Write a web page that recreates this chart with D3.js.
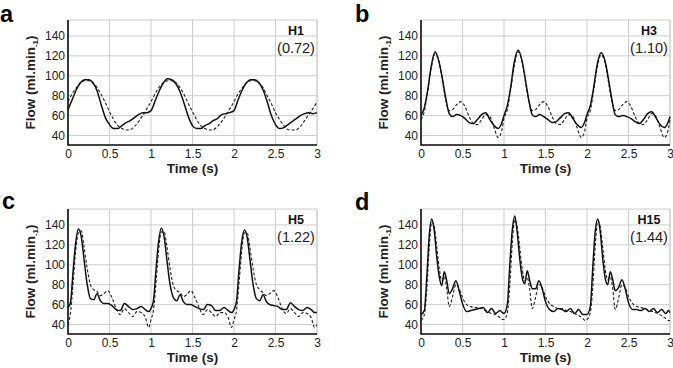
<!DOCTYPE html>
<html>
<head>
<meta charset="utf-8">
<script src="https://cdn.jsdelivr.net/npm/d3@7"></script>
<style>
body { margin: 0; background: #fff; }
svg { display: block; font-family: "Liberation Sans", Arial, sans-serif; }
.grid line, .frame { stroke: #cdcdcd; stroke-width: 1; fill: none; }
.axis path { stroke: #111; stroke-width: 1.6; }
.axis text { font-size: 12px; fill: #222; font-family: "Liberation Sans", Arial, sans-serif; }
.measured { fill: none; stroke: #111; stroke-width: 1.5; }
.simulated { fill: none; stroke: #222; stroke-width: 1.1; stroke-dasharray: 3,2; }
.title { font-weight: bold; font-size: 13.5px; fill: #222; }
</style>
</head>
<body>
<div class="graph"></div>
<script>
// tick labels
var xTicks = [0, 0.5, 1, 1.5, 2, 2.5, 3];
var yTicks = [40, 60, 80, 100, 120, 140];

// panel a (H1)
var timeA = [0, 0.05, 0.1, 0.15, 0.2, 0.25, 0.3, 0.35, 0.4, 0.45, 0.5, 0.55, 0.6, 0.65, 0.7, 0.75, 0.8, 0.85, 0.9, 0.95,
    1, 1.05, 1.1, 1.15, 1.2, 1.25, 1.3, 1.35, 1.4, 1.45, 1.5, 1.55, 1.6, 1.65, 1.7, 1.75, 1.8, 1.85, 1.9, 1.95,
    2, 2.05, 2.1, 2.15, 2.2, 2.25, 2.3, 2.35, 2.4, 2.45, 2.5, 2.55, 2.6, 2.65, 2.7, 2.75, 2.8, 2.85, 2.9, 2.95, 3];
var measuredA = [66, 76, 86, 93, 96, 96, 93, 85, 71, 58, 51, 47, 47, 50, 53, 55, 58, 61, 63, 63,
    65, 75, 85, 93, 97, 96, 92, 84, 72, 59, 50, 47, 47, 50, 52, 55, 57, 61, 62, 63,
    65, 76, 86, 93, 96, 96, 93, 86, 74, 60, 51, 47, 48, 51, 54, 57, 60, 62, 63, 62, 63];
var simulatedA = [74, 82, 88, 93, 95, 95, 93, 88, 81, 73, 64, 56, 50, 47, 45.5, 46, 49, 54, 60, 67,
    74, 82, 89, 93, 95, 95, 93, 88, 81, 72, 64, 56, 50, 47, 45.5, 46, 49, 54, 60, 67,
    74, 82, 88, 93, 95, 95, 93, 88, 80, 72, 63, 56, 50, 46, 45.5, 46, 49, 55, 61, 67, 74];

// panel b (H3)
var timeB = [0, 0.04, 0.08, 0.12, 0.17, 0.22, 0.26, 0.3, 0.34, 0.38, 0.43, 0.48, 0.53, 0.58, 0.63, 0.68, 0.73, 0.78, 0.83, 0.88, 0.93, 0.97,
    1, 1.04, 1.08, 1.12, 1.17, 1.22, 1.26, 1.3, 1.34, 1.38, 1.43, 1.48, 1.53, 1.58, 1.63, 1.68, 1.73, 1.78, 1.83, 1.88, 1.93, 1.97,
    2, 2.04, 2.08, 2.12, 2.17, 2.22, 2.26, 2.3, 2.34, 2.38, 2.43, 2.48, 2.53, 2.58, 2.63, 2.68, 2.73, 2.78, 2.83, 2.88, 2.93, 2.97, 3];
var measuredB = [60, 68, 85, 108, 124, 113, 96, 77, 62, 59, 61, 60, 57, 53, 52, 56, 61, 63, 56, 50, 47, 52,
    60, 70, 88, 112, 126, 114, 95, 75, 61, 59, 61, 59, 56, 53, 54, 58, 62, 63, 57, 51, 48, 53,
    61, 70, 88, 110, 123, 114, 96, 76, 61, 59, 60, 59, 57, 54, 52, 56, 62, 64, 58, 51, 48, 52, 59];
var simulatedB = [56, 64, 84, 106, 122, 113, 94, 75, 65, 66, 71, 74, 69, 59, 52, 51, 56, 61, 59, 48, 38, 44,
    57, 66, 86, 108, 124, 113, 93, 74, 65, 66, 71, 74, 69, 59, 52, 51, 56, 61, 59, 48, 38, 44,
    57, 65, 85, 107, 121, 112, 93, 74, 65, 66, 71, 74, 69, 59, 52, 51, 56, 62, 59, 48, 38, 43, 56];

// panel c (H5)
var timeC = [0, 0.03, 0.06, 0.09, 0.125, 0.16, 0.19, 0.23, 0.27, 0.31, 0.35, 0.39, 0.43, 0.48, 0.53, 0.58, 0.63, 0.68, 0.73, 0.78, 0.83, 0.88, 0.93, 0.97,
    1, 1.03, 1.06, 1.09, 1.125, 1.16, 1.19, 1.23, 1.27, 1.31, 1.35, 1.39, 1.43, 1.48, 1.53, 1.58, 1.63, 1.68, 1.73, 1.78, 1.83, 1.88, 1.93, 1.97,
    2, 2.03, 2.06, 2.09, 2.125, 2.16, 2.19, 2.23, 2.27, 2.31, 2.35, 2.39, 2.43, 2.48, 2.53, 2.58, 2.63, 2.68, 2.73, 2.78, 2.83, 2.88, 2.93, 2.97, 3];
var measuredC = [57, 62, 92, 120, 136, 128, 108, 81, 66, 65, 71, 64, 61, 61, 59, 55, 54, 61, 58, 55, 56, 58, 55, 53,
    56, 64, 95, 122, 137, 127, 106, 80, 67, 64, 70, 63, 60, 60, 58, 56, 55, 60, 59, 54, 54, 57, 54, 52,
    55, 63, 94, 121, 135, 127, 107, 80, 66, 64, 70, 63, 60, 59, 58, 55, 55, 62, 58, 55, 54, 57, 55, 52, 52];
var simulatedC = [40, 52, 80, 112, 132, 134, 120, 97, 80, 75, 73, 69, 71, 74, 67, 56, 50, 56, 52, 48, 53, 52, 48, 37,
    45, 55, 82, 113, 133, 133, 119, 96, 79, 74, 72, 68, 70, 74, 67, 57, 50, 55, 52, 48, 52, 52, 47, 37,
    45, 54, 81, 111, 132, 132, 118, 96, 80, 75, 72, 69, 71, 74, 67, 56, 51, 56, 52, 48, 52, 51, 47, 37, 40];

// panel d (H15)
var timeD = [0, 0.04, 0.07, 0.1, 0.13, 0.16, 0.19, 0.22, 0.25, 0.28, 0.31, 0.34, 0.38, 0.42, 0.46, 0.5, 0.55, 0.6, 0.65, 0.7, 0.75, 0.8, 0.85, 0.9, 0.95, 0.98,
    1, 1.04, 1.07, 1.1, 1.13, 1.16, 1.19, 1.22, 1.25, 1.28, 1.31, 1.34, 1.38, 1.42, 1.46, 1.5, 1.55, 1.6, 1.65, 1.7, 1.75, 1.8, 1.85, 1.9, 1.95, 1.98,
    2, 2.04, 2.07, 2.1, 2.13, 2.16, 2.19, 2.22, 2.25, 2.28, 2.31, 2.34, 2.38, 2.42, 2.46, 2.5, 2.55, 2.6, 2.65, 2.7, 2.75, 2.8, 2.85, 2.9, 2.95, 2.98, 3];
var measuredD = [50, 54, 88, 130, 146, 134, 108, 88, 79, 93, 84, 71, 76, 84, 74, 61, 53, 54, 55, 56, 57, 52, 56, 51, 54, 52,
    51, 60, 100, 135, 149, 132, 106, 87, 81, 94, 84, 76, 76, 84, 76, 63, 55, 53, 56, 55, 53, 56, 51, 55, 50, 50,
    50, 58, 98, 134, 146, 133, 106, 86, 80, 93, 85, 74, 77, 85, 76, 62, 55, 55, 54, 56, 53, 56, 52, 55, 51, 54, 52];
var simulatedD = [44, 50, 75, 118, 143, 138, 118, 96, 84, 88, 76, 58, 68, 80, 76, 67, 60, 58, 57, 57, 55, 53, 51, 50, 47, 45,
    45, 52, 80, 122, 145, 138, 117, 95, 84, 87, 75, 56, 67, 80, 77, 68, 61, 58, 56, 56, 54, 53, 51, 49, 46, 44,
    45, 52, 78, 120, 144, 138, 117, 95, 85, 88, 76, 55, 66, 80, 77, 68, 61, 58, 57, 56, 54, 53, 51, 49, 46, 44, 44];

var panels = [
    {letter: "a", name: "H1", ratio: "(0.72)", t: timeA, measured: measuredA, simulated: simulatedA, left: 68, top: 20, lx: 0, ly: 21.5},
    {letter: "b", name: "H3", ratio: "(1.10)", t: timeB, measured: measuredB, simulated: simulatedB, left: 421, top: 20, lx: 355, ly: 21.5},
    {letter: "c", name: "H5", ratio: "(1.22)", t: timeC, measured: measuredC, simulated: simulatedC, left: 68, top: 209, lx: 2, ly: 209},
    {letter: "d", name: "H15", ratio: "(1.44)", t: timeD, measured: measuredD, simulated: simulatedD, left: 421, top: 209, lx: 355, ly: 210}
];

var width = 249, height = 125;

var svg = d3.select(".graph").append("svg")
    .attr("width", 673)
    .attr("height", 368);

var xScale = d3.scaleLinear().domain([0, 3]).range([0, width]);
var yScale = d3.scaleLinear().domain([30.5, 156]).range([height, 0]);

var line = d3.line()
    .curve(d3.curveMonotoneX)
    .x(function(d) { return xScale(d[0]); })
    .y(function(d) { return yScale(d[1]); });

panels.forEach(function(p) {
    var g = svg.append("g").attr("transform", "translate(" + p.left + "," + p.top + ")");

    // gridlines
    var grid = g.append("g").attr("class", "grid");
    grid.selectAll(".gx").data(xTicks).enter().append("line")
        .attr("x1", function(d) { return xScale(d); })
        .attr("x2", function(d) { return xScale(d); })
        .attr("y1", 0).attr("y2", height);
    grid.selectAll(".gy").data(yTicks).enter().append("line")
        .attr("x1", 0).attr("x2", width)
        .attr("y1", function(d) { return yScale(d); })
        .attr("y2", function(d) { return yScale(d); });
    g.append("rect").attr("class", "frame")
        .attr("x", 0).attr("y", 0).attr("width", width).attr("height", height);

    // curves
    g.append("path").attr("class", "simulated")
        .attr("d", line(p.t.map(function(t, i) { return [t, p.simulated[i]]; })));
    g.append("path").attr("class", "measured")
        .attr("d", line(p.t.map(function(t, i) { return [t, p.measured[i]]; })));

    // axes
    g.append("g").attr("class", "axis")
        .attr("transform", "translate(0," + height + ")")
        .call(d3.axisBottom(xScale).tickValues(xTicks).tickSize(0).tickPadding(4)
            .tickFormat(function(d) { return String(d); }));
    g.append("g").attr("class", "axis")
        .call(d3.axisLeft(yScale).tickValues(yTicks).tickSize(0).tickPadding(3)
            .tickFormat(function(d) { return String(d); }));
    g.selectAll(".axis path").attr("d", null);
    g.append("path")
        .attr("d", "M0,0V" + height + "H" + width)
        .attr("fill", "none").attr("stroke", "#111").attr("stroke-width", 1.6);

    // axis titles
    g.append("text").attr("class", "title")
        .attr("text-anchor", "middle")
        .attr("x", width / 2).attr("y", height + 28)
        .text("Time (s)");
    var yl = g.append("text").attr("class", "title")
        .attr("text-anchor", "middle")
        .attr("transform", "translate(-33," + (height / 2) + ")rotate(-90)");
    yl.append("tspan").text("Flow (ml.min");
    yl.append("tspan").attr("font-size", "8px").attr("dy", 3).text("-1");
    yl.append("tspan").attr("dy", -3).text(")");

    // heart label and ratio
    g.append("text").attr("text-anchor", "middle")
        .attr("x", 228).attr("y", 15)
        .attr("font-weight", "bold").attr("font-size", "12.5px").attr("fill", "#111")
        .text(p.name);
    g.append("text").attr("text-anchor", "middle")
        .attr("x", 228).attr("y", 33)
        .attr("font-size", "14.5px").attr("fill", "#222")
        .text(p.ratio);

    // panel letter
    svg.append("text")
        .attr("x", p.lx).attr("y", p.ly)
        .attr("font-weight", "bold").attr("font-size", "23.5px").attr("fill", "#000")
        .text(p.letter);
});
</script>
</body>
</html>
